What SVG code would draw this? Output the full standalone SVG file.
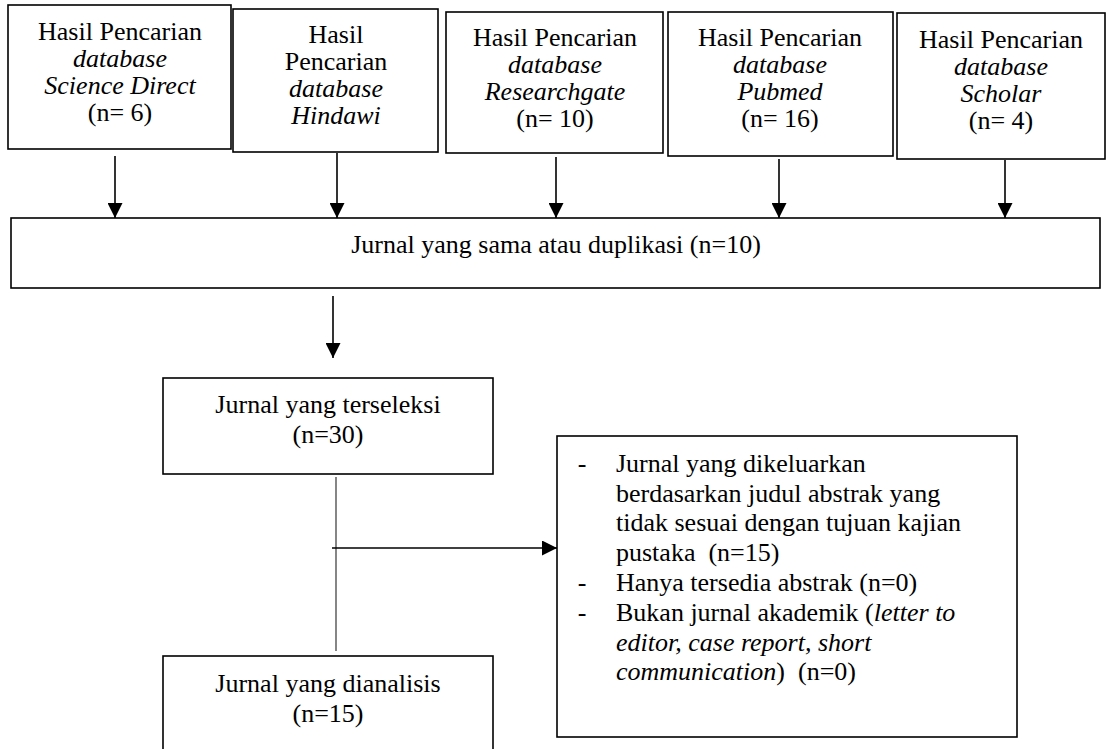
<svg xmlns="http://www.w3.org/2000/svg" width="1108" height="749" viewBox="0 0 1108 749">
<defs>
<style>
.box{fill:#fff;stroke:#000;stroke-width:1.6}
.t{font-family:"Liberation Serif","Times New Roman",serif;font-size:26px;fill:#000}
.c{text-anchor:middle}
.i{font-style:italic}
.con{stroke:#000;stroke-width:1.6;fill:none}
</style>
<marker id="ah" viewBox="0 0 15 15" refX="15" refY="7.5" markerWidth="15" markerHeight="15" markerUnits="userSpaceOnUse" orient="auto">
<path d="M0,0 L15,7.5 L0,15 z" fill="#000"/>
</marker>
</defs>
<rect width="1108" height="749" fill="#fff"/>

<g id="connectors">
<line class="con" x1="115" y1="156" x2="115" y2="218" marker-end="url(#ah)"/>
<line class="con" x1="337" y1="153" x2="337" y2="218" marker-end="url(#ah)"/>
<line class="con" x1="556" y1="157" x2="556" y2="218" marker-end="url(#ah)"/>
<line class="con" x1="779" y1="159" x2="779" y2="218" marker-end="url(#ah)"/>
<line class="con" x1="1005" y1="160" x2="1005" y2="218" marker-end="url(#ah)"/>
<line class="con" x1="333" y1="296" x2="333" y2="358" marker-end="url(#ah)"/>
<line x1="336" y1="477" x2="336" y2="651" stroke="#444" stroke-width="1.3"/>
<line class="con" x1="332" y1="548" x2="557" y2="548" marker-end="url(#ah)"/>
</g>

<g id="sciencedirect">
<rect class="box" x="8" y="5" width="223" height="144"/>
<text class="t c" x="120" y="40">Hasil Pencarian</text>
<text class="t c i" x="120" y="67">database</text>
<text class="t c i" x="120" y="94">Science Direct</text>
<text class="t c" x="120" y="121">(n= 6)</text>
</g>

<g id="hindawi">
<rect class="box" x="233" y="9" width="205" height="143"/>
<text class="t c" x="336" y="43">Hasil</text>
<text class="t c" x="336" y="70">Pencarian</text>
<text class="t c i" x="336" y="97">database</text>
<text class="t c i" x="336" y="124">Hindawi</text>
</g>

<g id="researchgate">
<rect class="box" x="446" y="12" width="217" height="141"/>
<text class="t c" x="555" y="46">Hasil Pencarian</text>
<text class="t c i" x="555" y="73">database</text>
<text class="t c i" x="555" y="100">Researchgate</text>
<text class="t c" x="555" y="127">(n= 10)</text>
</g>

<g id="pubmed">
<rect class="box" x="668" y="12" width="225" height="144"/>
<text class="t c" x="780" y="46">Hasil Pencarian</text>
<text class="t c i" x="780" y="73">database</text>
<text class="t c i" x="780" y="100">Pubmed</text>
<text class="t c" x="780" y="127">(n= 16)</text>
</g>

<g id="scholar">
<rect class="box" x="897" y="13" width="208" height="146"/>
<text class="t c" x="1001" y="48">Hasil Pencarian</text>
<text class="t c i" x="1001" y="75">database</text>
<text class="t c i" x="1001" y="102">Scholar</text>
<text class="t c" x="1001" y="129">(n= 4)</text>
</g>

<g id="duplikasi">
<rect class="box" x="11" y="218" width="1089" height="70"/>
<text class="t c" x="556" y="253">Jurnal yang sama atau duplikasi (n=10)</text>
</g>

<g id="terseleksi">
<rect class="box" x="163" y="378" width="330" height="96"/>
<text class="t c" x="328" y="413">Jurnal yang terseleksi</text>
<text class="t c" x="328" y="443">(n=30)</text>
</g>

<g id="dianalisis">
<rect class="box" x="163" y="656" width="330" height="100"/>
<text class="t c" x="328" y="692">Jurnal yang dianalisis</text>
<text class="t c" x="328" y="722">(n=15)</text>
</g>

<g id="dikeluarkan">
<rect class="box" x="557" y="436" width="460" height="301"/>
<text class="t c" x="582" y="472">-</text>
<text class="t" x="616" y="472">Jurnal yang dikeluarkan</text>
<text class="t" x="616" y="502">berdasarkan judul abstrak yang</text>
<text class="t" x="616" y="531">tidak sesuai dengan tujuan kajian</text>
<text class="t" x="616" y="561" xml:space="preserve">pustaka  (n=15)</text>
<text class="t c" x="582" y="591">-</text>
<text class="t" x="616" y="591">Hanya tersedia abstrak (n=0)</text>
<text class="t c" x="582" y="621">-</text>
<text class="t" x="616" y="621">Bukan jurnal akademik (<tspan class="i">letter to</tspan></text>
<text class="t i" x="616" y="651">editor, case report, short</text>
<text class="t" x="616" y="680" xml:space="preserve"><tspan class="i">communication</tspan>)  (n=0)</text>
</g>
</svg>
